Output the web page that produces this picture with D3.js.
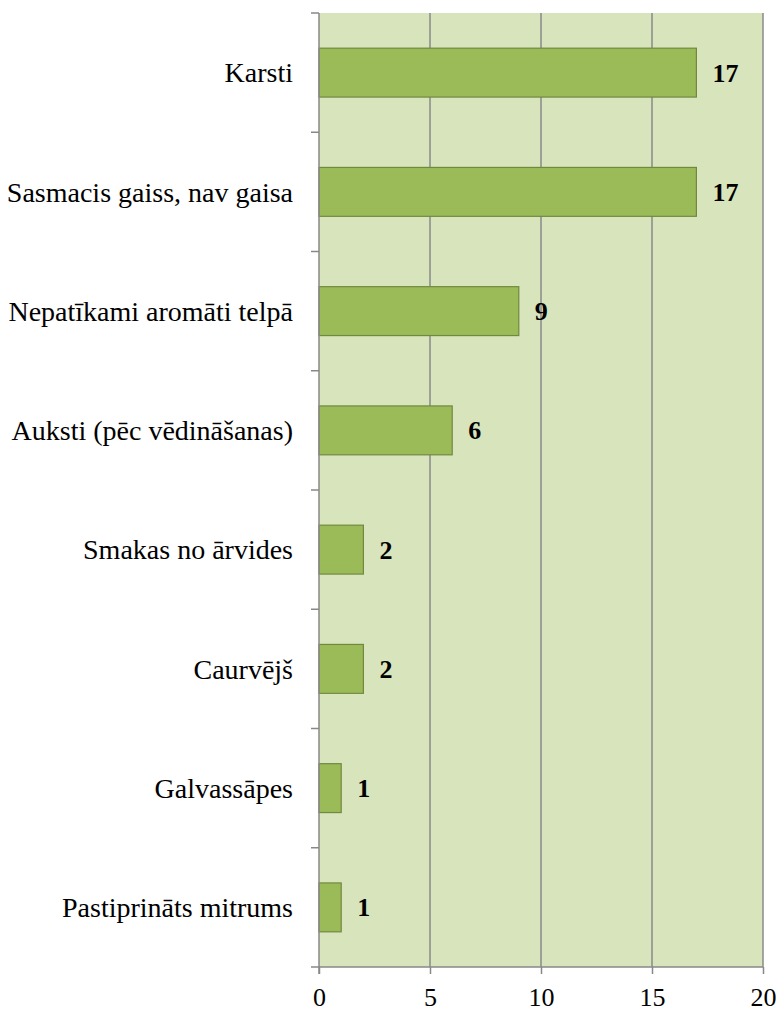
<!DOCTYPE html>
<html><head><meta charset="utf-8">
<script src="https://cdn.jsdelivr.net/npm/d3@7"></script>
<style>body{margin:0;background:#fff}</style>
</head><body>
<svg id="c" width="781" height="1013"></svg>
<script>
const categories = ["Karsti","Sasmacis gaiss, nav gaisa","Nepatīkami aromāti telpā","Auksti (pēc vēdināšanas)","Smakas no ārvides","Caurvējš","Galvassāpes","Pastiprināts mitrums"];
const values = [17,17,9,6,2,2,1,1];
const xTicks = [0,5,10,15,20];

const svg = d3.select("#c");
const L=319, R=763, T=13, B=967;
const font = "Liberation Serif, Times New Roman, serif";
const x = d3.scaleLinear().domain([0,20]).range([L,R]);
const y = d3.scaleBand().domain(categories).range([T,B]).paddingInner(0.59).paddingOuter(0.295);
const yb = d3.scaleBand().domain(categories).range([T,B]);

svg.append("rect").attr("x",L).attr("y",T).attr("width",R-L).attr("height",B-T).attr("fill","#d8e4bc");
svg.selectAll(".g").data(xTicks.slice(1)).join("line")
  .attr("x1",d=>x(d)).attr("x2",d=>x(d)).attr("y1",T).attr("y2",B)
  .attr("stroke","#8a8a8a").attr("stroke-width",1.5);
svg.selectAll(".bar").data(values).join("rect")
  .attr("x",x(0)).attr("y",(d,i)=>y(categories[i]))
  .attr("width",d=>x(d)-x(0)).attr("height",y.bandwidth())
  .attr("fill","#9bbb59").attr("stroke","#71893f").attr("stroke-width",1.2);
svg.selectAll(".vl").data(values).join("text")
  .attr("x",d=>x(d)+16).attr("y",(d,i)=>y(categories[i])+y.bandwidth()/2)
  .attr("dy","0.35em").style("font-family",font).attr("font-size",26).attr("font-weight","bold")
  .attr("fill","#000").text(d=>d);
const xa = svg.append("g").attr("transform",`translate(0,${B})`)
  .call(d3.axisBottom(x).tickValues(xTicks).tickSize(7).tickPadding(14).tickSizeOuter(0));
xa.select(".domain").attr("stroke","#888").attr("stroke-width",1.5).attr("d",`M${L-8},0H${R}`);
xa.selectAll(".tick line").attr("stroke","#888").attr("stroke-width",1.5);
xa.selectAll("text").style("font-family",font).attr("font-size",26).attr("fill","#000");
const ya = svg.append("g").attr("transform",`translate(${L},0)`);
ya.append("line").attr("x1",0).attr("x2",0).attr("y1",T).attr("y2",B+7).attr("stroke","#888").attr("stroke-width",1.5);
const bounds = categories.map(c=>yb(c));
ya.selectAll(".yt").data(bounds).join("line")
  .attr("x1",-8).attr("x2",0).attr("y1",d=>d).attr("y2",d=>d).attr("stroke","#888").attr("stroke-width",1.5);
ya.selectAll(".yl").data(categories).join("text")
  .attr("x",-26).attr("y",d=>yb(d)+yb.bandwidth()/2).attr("dy","0.35em").attr("text-anchor","end")
  .style("font-family",font).attr("font-size",28).attr("fill","#000").text(d=>d);
</script>
</body></html>
